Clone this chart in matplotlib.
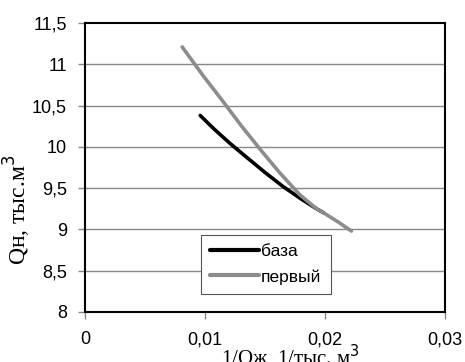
import matplotlib
matplotlib.use("Agg")
import matplotlib.pyplot as plt
from matplotlib.ticker import FuncFormatter

# data
baza_x = [0.0096, 0.0108, 0.0121, 0.0135, 0.0150, 0.0165, 0.0180, 0.0193, 0.0199]
baza_y = [10.38, 10.21, 10.04, 9.87, 9.69, 9.52, 9.37, 9.25, 9.20]
perv_x = [0.0081, 0.0098, 0.0115, 0.0130, 0.0146, 0.0162, 0.0179, 0.0193, 0.0200, 0.0211, 0.0222]
perv_y = [11.21, 10.87, 10.55, 10.26, 9.97, 9.69, 9.42, 9.25, 9.19, 9.09, 8.98]
x_ticks = [0, 0.01, 0.02, 0.03]
y_ticks = [8, 8.5, 9, 9.5, 10, 10.5, 11, 11.5]

W, H = 465, 362
fig = plt.figure(figsize=(W / 100, H / 100), dpi=100)
ax = fig.add_axes([85 / W, 1 - 312 / H, 360 / W, 289 / H])

for y in y_ticks[1:-1]:
    ax.axhline(y, color="#888888", lw=1.0, zorder=0)

ax.plot(baza_x, baza_y, color="black", lw=2.6, label="база", solid_capstyle="round")
ax.plot(perv_x, perv_y, color="#8c8c8c", lw=2.6, label="первый", solid_capstyle="round")

ax.set_xlim(0, 0.03)
ax.set_ylim(8, 11.5)
ax.set_xticks(x_ticks)
ax.set_yticks(y_ticks)
fmt = lambda v, p: ("%g" % v).replace(".", ",")
ax.xaxis.set_major_formatter(FuncFormatter(fmt))
ax.yaxis.set_major_formatter(FuncFormatter(fmt))
for s in ax.spines.values():
    s.set_linewidth(1.5)
    s.set_color("black")
ax.tick_params(axis="both", direction="out", length=5, width=1, color="#888888",
               labelsize=13, labelfontfamily="Liberation Sans")
ax.tick_params(axis="x", pad=9)
ax.tick_params(axis="y", pad=8)

fig.text(17 / W, 1 - 210 / H, "Qн, тыс.м$^3$", family="Liberation Serif", fontsize=17,
         rotation=90, ha="center", va="center")
fig.text(290 / W, 1 - 343 / H, "1/Qж, 1/тыс. м$^3$", family="Liberation Serif", fontsize=15,
         ha="center", va="top")

leg = ax.legend(loc="lower left", bbox_to_anchor=(0.322, 0.062), borderaxespad=0, fancybox=False,
                edgecolor="#555555", framealpha=1, prop={"family": "Liberation Sans", "size": 12.5},
                handlelength=2.8, handletextpad=0.1, borderpad=0.55, labelspacing=0.55)
leg.get_frame().set_linewidth(0.8)
for l in leg.get_lines():
    l.set_linewidth(3)

fig.savefig("out.png", dpi=100)
